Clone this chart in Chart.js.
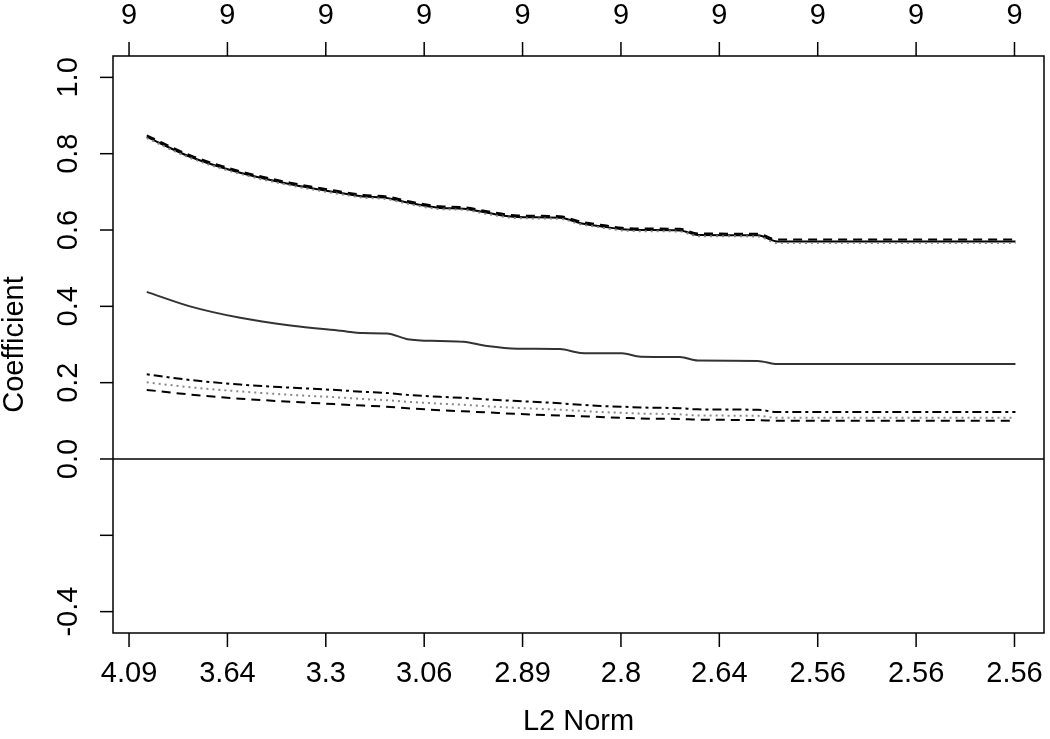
<!DOCTYPE html>
<html>
<head>
<meta charset="utf-8">
<script src="https://cdn.jsdelivr.net/npm/chart.js@4/dist/chart.umd.min.js"></script>
<style>
  body { margin: 0; background: #fff; }
  canvas { display: block; }
</style>
</head>
<body>
<canvas id="myChart" width="1050" height="739"></canvas>
<script>
'use strict';

// path positions (in tick units along the bottom axis)
var steps = [0.18, 0.62, 1.13, 1.64, 2.15, 2.38, 2.62, 2.83, 3.16, 3.40, 3.64, 3.95, 4.38, 4.59, 4.79, 5.01, 5.20, 5.60, 5.78, 6.39, 6.59, 9.01];

var bottomLabels = ['4.09', '3.64', '3.3', '3.06', '2.89', '2.8', '2.64', '2.56', '2.56', '2.56'];
var topLabels = ['9', '9', '9', '9', '9', '9', '9', '9', '9', '9'];
var yTicks = [-0.4, -0.2, 0.0, 0.2, 0.4, 0.6, 0.8, 1.0];
var yLabels = ['-0.4', '', '0.0', '0.2', '0.4', '0.6', '0.8', '1.0'];

// coefficient paths
var topSolid  = [0.844, 0.792, 0.750, 0.720, 0.697, 0.688, 0.684, 0.672, 0.658, 0.656, 0.645, 0.634, 0.632, 0.618, 0.610, 0.602, 0.600, 0.599, 0.587, 0.586, 0.570, 0.570];
var topDashed = [0.848, 0.796, 0.754, 0.724, 0.701, 0.692, 0.688, 0.676, 0.662, 0.660, 0.649, 0.638, 0.636, 0.622, 0.614, 0.606, 0.604, 0.603, 0.591, 0.590, 0.575, 0.575];
var topDotted = [0.841, 0.789, 0.747, 0.717, 0.694, 0.685, 0.681, 0.669, 0.655, 0.653, 0.642, 0.631, 0.629, 0.615, 0.607, 0.599, 0.597, 0.596, 0.584, 0.583, 0.566, 0.566];
var midSolid  = [0.438, 0.400, 0.370, 0.350, 0.336, 0.330, 0.329, 0.314, 0.309, 0.307, 0.296, 0.289, 0.288, 0.278, 0.277, 0.277, 0.268, 0.267, 0.258, 0.257, 0.249, 0.249];
var lowDashDot = [0.222, 0.207, 0.195, 0.187, 0.180, 0.176, 0.173, 0.168, 0.163, 0.160, 0.156, 0.152, 0.146, 0.142, 0.139, 0.137, 0.135, 0.133, 0.130, 0.129, 0.123, 0.123];
var lowDotted  = [0.201, 0.188, 0.177, 0.168, 0.161, 0.157, 0.154, 0.150, 0.145, 0.142, 0.138, 0.134, 0.129, 0.126, 0.123, 0.121, 0.119, 0.117, 0.114, 0.113, 0.108, 0.108];
var lowDashed  = [0.181, 0.169, 0.158, 0.150, 0.143, 0.140, 0.137, 0.133, 0.128, 0.125, 0.122, 0.118, 0.114, 0.112, 0.110, 0.108, 0.106, 0.105, 0.103, 0.102, 0.100, 0.100];

var FONT = '29px "Liberation Sans", Arial, sans-serif';

function pts(arr) {
  return arr.map(function (v, i) { return { x: steps[i], y: v }; });
}

function line(arr, color, dash) {
  return {
    data: pts(arr),
    borderColor: color,
    borderWidth: 2,
    borderDash: dash,
    pointRadius: 0,
    cubicInterpolationMode: 'monotone',
    fill: false
  };
}

// R style box, ticks and labels
var rAxes = {
  id: 'rAxes',
  afterDraw: function (chart) {
    var c = chart.ctx;
    var a = chart.chartArea;
    var xs = chart.scales.x;
    var ys = chart.scales.y;
    c.save();
    c.strokeStyle = '#000';
    c.fillStyle = '#000';
    c.lineWidth = 1.5;
    c.setLineDash([]);
    c.strokeRect(a.left, a.top, a.right - a.left, a.bottom - a.top);

    // zero line
    var y0 = ys.getPixelForValue(0);
    c.beginPath();
    c.moveTo(a.left, y0);
    c.lineTo(a.right, y0);
    c.stroke();

    c.font = FONT;
    c.textAlign = 'center';
    c.textBaseline = 'middle';
    for (var i = 0; i < bottomLabels.length; i++) {
      var px = xs.getPixelForValue(i);
      c.beginPath();
      c.moveTo(px, a.bottom);
      c.lineTo(px, a.bottom + 14);
      c.moveTo(px, a.top);
      c.lineTo(px, a.top - 14);
      c.stroke();
      c.fillText(bottomLabels[i], px, 674);
      c.fillText(topLabels[i], px, 16);
    }

    for (var j = 0; j < yTicks.length; j++) {
      var py = ys.getPixelForValue(yTicks[j]);
      c.beginPath();
      c.moveTo(a.left, py);
      c.lineTo(a.left - 13, py);
      c.stroke();
      if (yLabels[j]) {
        c.save();
        c.translate(69, py);
        c.rotate(-Math.PI / 2);
        c.fillText(yLabels[j], 0, 0);
        c.restore();
      }
    }

    c.fillText('L2 Norm', (a.left + a.right) / 2, 722);
    c.save();
    c.translate(15, (a.top + a.bottom) / 2);
    c.rotate(-Math.PI / 2);
    c.fillText('Coefficient', 0, 0);
    c.restore();
    c.restore();
  }
};

var ctx = document.getElementById('myChart').getContext('2d');

var myChart = new Chart(ctx, {
  type: 'line',
  data: {
    datasets: [
      line(topDotted, '#888', [2, 4]),
      line(topSolid, '#000', []),
      line(topDashed, '#000', [9, 6]),
      line(midSolid, '#333', []),
      line(lowDashDot, '#000', [3, 4, 9, 4]),
      line(lowDotted, '#888', [2, 4]),
      line(lowDashed, '#000', [9, 6])
    ]
  },
  options: {
    responsive: false,
    animation: false,
    layout: { padding: { left: 113, right: 6, top: 56, bottom: 106 } },
    scales: {
      x: { type: 'linear', min: -0.163, max: 9.30, display: false },
      y: { type: 'linear', min: -0.456, max: 1.056, display: false }
    },
    plugins: {
      legend: { display: false },
      tooltip: { enabled: false }
    }
  },
  plugins: [rAxes]
});
</script>
</body>
</html>
